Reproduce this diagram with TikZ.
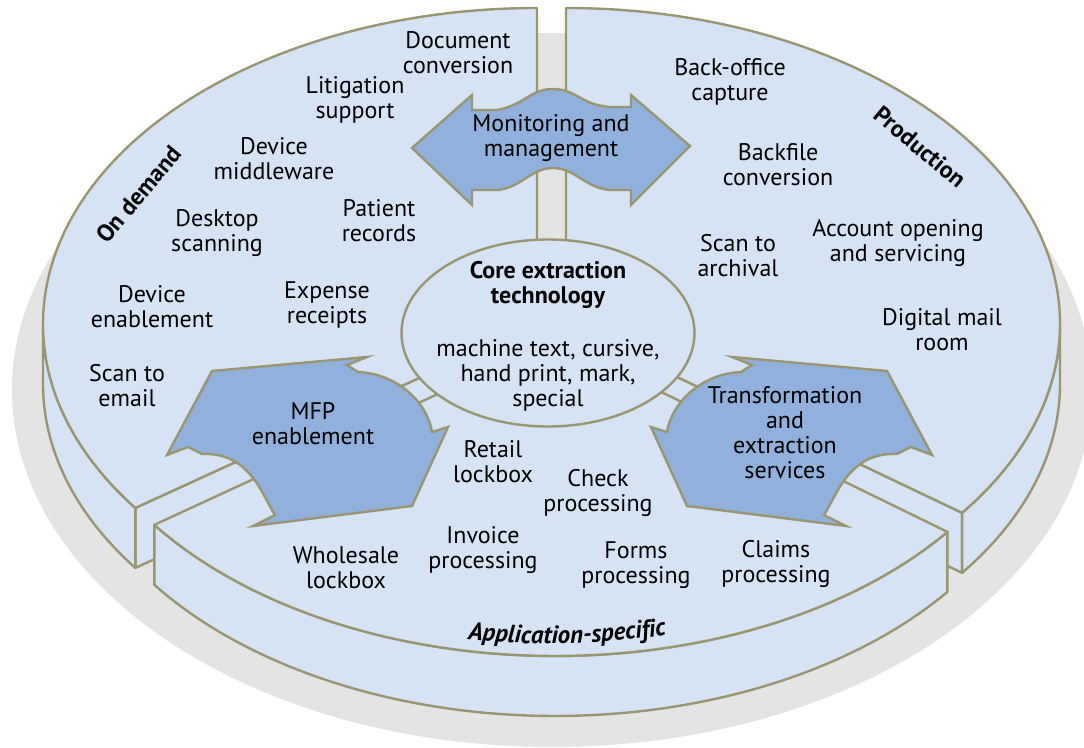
\documentclass[tikz,border=0pt]{standalone}
\usepackage{fontspec}
\setmainfont{PT Sans}
\usepackage{tikz}
\usetikzlibrary{shapes.geometric, decorations.text}
\definecolor{diskblue}{HTML}{D5E3F5}
\definecolor{wingblue}{HTML}{8FB1DB}
\definecolor{rimolive}{HTML}{9A9672}
\definecolor{shadowgray}{HTML}{E4E4E4}
\tikzset{
  slab/.style={fill=diskblue, draw=rimolive, line width=1.2pt, line join=round},
  wing/.style={fill=wingblue, draw=rimolive, line width=1.2pt},
  item/.style={align=center, inner sep=0pt, font=\fontsize{12}{12.5}\selectfont},
  segname/.style={inner sep=0pt, font=\bfseries\fontsize{12}{12.5}\selectfont},
  coreoval/.style={ellipse, fill=diskblue, draw=rimolive, line width=1.2pt,
    minimum width=146.5pt, minimum height=93.5pt, inner sep=0pt},
}
% outline of the side wings (MFP one; the other is its mirror image)
\newcommand{\wingoutline}{(212,371) -- (367,357) -- (347,365) -- (358,372)
  .. controls (400,374) and (428,405) .. (432,432) -- (448,427) -- (412,506)
  -- (253,526) -- (275,515) .. controls (262,495) and (250,452) .. (202,454)
  -- (188,447) -- (167,455) -- cycle}

\begin{document}
\begin{tikzpicture}[x=0.5pt, y=-0.5pt]
  \useasboundingbox (0,0) rectangle (1084,748);
  \fill[shadowgray] (552,390) ellipse [x radius=540, y radius=357];

  % on demand
  \begin{scope}[shift={(537,324)}]
    \draw[slab] (0,0) -- (144.4:494 and 316) -- ++(0,60) -- (0,60) -- cycle;
    \draw[slab] (144.4:494 and 316) arc[start angle=144.4, end angle=180, x radius=494, y radius=316]
      -- ++(0,60) arc[start angle=180, end angle=144.4, x radius=494, y radius=316] -- cycle;
    \draw[slab] (0,0) -- (144.4:494 and 316) arc[start angle=144.4, end angle=270, x radius=494, y radius=316] -- cycle;
  \end{scope}

  % production
  \begin{scope}[shift={(566,324)}]
    \draw[slab] (0,0) -- (36.7:494 and 316) -- ++(0,60) -- (0,60) -- cycle;
    \draw[slab] (0:494 and 316) arc[start angle=0, end angle=36.7, x radius=494, y radius=316]
      -- ++(0,60) arc[start angle=36.7, end angle=0, x radius=494, y radius=316] -- cycle;
    \draw[slab] (0,0) -- (-90:494 and 316) arc[start angle=-90, end angle=36.7, x radius=494, y radius=316] -- cycle;
  \end{scope}

  % application-specific
  \begin{scope}[shift={(555,340)}]
    \draw[slab] (37.4:494 and 316) arc[start angle=37.4, end angle=144.2, x radius=494, y radius=316]
      -- ++(0,60) arc[start angle=144.2, end angle=37.4, x radius=494, y radius=316] -- cycle;
    \draw[slab] (0,0) -- (37.4:494 and 316) arc[start angle=37.4, end angle=144.2, x radius=494, y radius=316] -- cycle;
  \end{scope}

  % wings and the top double arrow
  \draw[wing] \wingoutline;
  \begin{scope}[shift={(1099,0)}, xscale=-1]
    \draw[wing] \wingoutline;
  \end{scope}
  \draw[wing] (412,148) -- (472,95) -- (472,110) -- (497,110)
    .. controls (525,105) and (530,89) .. (553,89) .. controls (576,89) and (581,105) .. (610,107)
    -- (631,107) -- (631,95) -- (690,146) -- (631,205) -- (631,190) -- (610,190)
    .. controls (585,188) and (575,168) .. (553,168) .. controls (531,168) and (521,188) .. (497,190)
    -- (472,190) -- (472,205) -- cycle;

  \node[coreoval] (core) at (548,333) {};
  \node[segname, align=center] (coretitle) at (548,285) {Core extraction\\technology};
  \node[item] (coretext) at (548,375) {machine text, cursive,\\hand print, mark,\\special};

  \node[item] (monitor) at (551,138) {Monitoring and\\management};
  \node[item] (mfp) at (313,424) {MFP\\enablement};
  \node[item] (transform) at (785,433) {Transformation\\and\\extraction\\services};

  % segment titles
  \node[segname, rotate=50] (ondemand) at (139,194) {On demand};
  \node[segname, rotate=-40] (production) at (920,147) {Production};
  \path[decorate, decoration={text along path, text align=center,
      text={|\bfseries\itshape\fontsize{12.5}{12.5}\selectfont|Application-specific}}]
    (440,636) .. controls (525,648) and (610,646) .. (694,630);

  % on demand items
  \node[item] (docconv) at (458,53) {Document\\conversion};
  \node[item] (litig) at (355,100) {Litigation\\support};
  \node[item] (devmid) at (274,159) {Device\\middleware};
  \node[item] (desktop) at (217,233) {Desktop\\scanning};
  \node[item] (patient) at (379,221) {Patient\\records};
  \node[item] (devenab) at (152,307) {Device\\enablement};
  \node[item] (expense) at (327,305) {Expense\\receipts};
  \node[item] (scanmail) at (127,386) {Scan to\\email};

  % production items
  \node[item] (backoff) at (730,82) {Back-office\\capture};
  \node[item] (backfile) at (778,165) {Backfile\\conversion};
  \node[item] (scanarch) at (738,256) {Scan to\\archival};
  \node[item] (account) at (898,243) {Account opening\\and servicing};
  \node[item] (mailroom) at (942,330) {Digital mail\\room};

  % application-specific items
  \node[item] (retail) at (493,462) {Retail\\lockbox};
  \node[item] (check) at (598,493) {Check\\processing};
  \node[item] (wholesale) at (346,568) {Wholesale\\lockbox};
  \node[item] (invoice) at (483,550) {Invoice\\processing};
  \node[item] (forms) at (636,565) {Forms\\processing};
  \node[item] (claims) at (776,564) {Claims\\processing};
\end{tikzpicture}
\end{document}
